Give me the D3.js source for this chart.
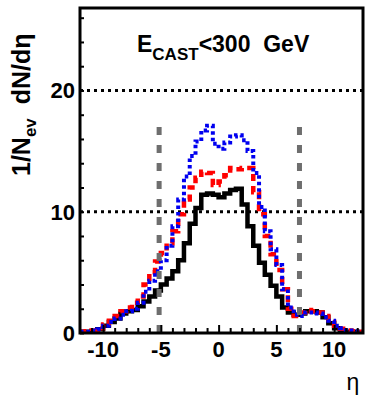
<!DOCTYPE html>
<html>
<head>
<meta charset="utf-8">
<script src="https://cdn.jsdelivr.net/npm/d3@7"></script>
<style>
  html, body { margin: 0; padding: 0; background: #fff; }
  svg { display: block; font-family: "Liberation Sans", Arial, sans-serif; }
</style>
</head>
<body>
<svg id="chart" width="366" height="398"></svg>
<script>
// eta bins, width 0.5, lower edges from -12 to 12 (last bin ends at 12.5)
const binEdges = [-12, -11.5, -11, -10.5, -10, -9.5, -9, -8.5, -8, -7.5, -7, -6.5,
  -6, -5.5, -5, -4.5, -4, -3.5, -3, -2.5, -2, -1.5, -1, -0.5,
  0, 0.5, 1, 1.5, 2, 2.5, 3, 3.5, 4, 4.5, 5, 5.5, 6, 6.5, 7, 7.5,
  8, 8.5, 9, 9.5, 10, 10.5, 11, 11.5, 12, 12.5];

// 1/Nev dN/deta, one value per bin
const blackVals = [0.1, 0.1, 0.15, 0.3, 0.6, 0.9, 1.2, 1.6, 1.8, 1.9, 2.2, 2.6,
  3.0, 3.5, 4.0, 4.5, 5.1, 6.0, 7.4, 9.0, 10.3, 11.4, 11.5, 11.4,
  11.2, 11.5, 11.8, 11.9, 10.6, 8.8, 7.2, 5.8, 4.8, 3.9, 3.0, 2.1, 1.7, 1.5, 1.6, 1.8,
  1.8, 1.7, 1.3, 0.8, 0.4, 0.2, 0.1, 0.1, 0.05];
const redVals = [0.1, 0.15, 0.2, 0.4, 0.7, 1.0, 1.4, 1.8, 2.1, 2.5, 3.0, 4.0,
  5.0, 5.9, 6.6, 7.4, 8.4, 9.8, 11.0, 12.0, 12.8, 13.3, 13.2, 12.2,
  12.5, 13.0, 13.6, 13.5, 13.6, 13.6, 11.6, 9.8, 8.0, 6.5, 5.2, 3.6, 2.0, 1.4, 1.7, 1.9,
  1.8, 1.7, 1.4, 0.9, 0.6, 0.35, 0.2, 0.15, 0.1];
const blueVals = [0.1, 0.1, 0.2, 0.3, 0.6, 0.9, 1.2, 1.5, 1.8, 2.0, 2.5, 3.4,
  4.3, 5.1, 6.0, 7.2, 8.8, 11.0, 12.9, 14.6, 15.8, 16.7, 17.1, 15.6,
  15.2, 15.7, 16.2, 16.3, 15.9, 15.0, 13.2, 10.4, 8.4, 6.9, 5.6, 3.6, 2.1, 1.5, 1.4, 1.7,
  1.7, 1.6, 1.3, 1.0, 0.6, 0.4, 0.2, 0.15, 0.1];

const gridVals = [10, 20];
const xTickLabels = [-10, -5, 0, 5, 10];
const yTickLabels = [0, 10, 20];
const accLines = [-5.15, 7.0];     // acceptance markers
const accTop = 17.2;

const svg = d3.select("#chart");
const x = d3.scaleLinear().domain([-12, 12.5]).range([80, 363]);
const y = d3.scaleLinear().domain([0, 26.8]).range([333, 8]);

svg.append("defs").append("clipPath").attr("id", "plot")
  .append("rect").attr("x", 80).attr("y", 8).attr("width", 283).attr("height", 325);

const plot = svg.append("g").attr("clip-path", "url(#plot)");

// dotted reference lines
plot.selectAll("line.grid").data(gridVals).join("line")
  .attr("class", "grid")
  .attr("x1", x.range()[0]).attr("x2", x.range()[1])
  .attr("y1", d => y(d)).attr("y2", d => y(d))
  .attr("stroke", "#000").attr("stroke-width", 3).attr("stroke-dasharray", "3,4");

const hist = (vals) => {
  const pts = vals.map((v, i) => [binEdges[i], v]);
  pts.push([binEdges[vals.length], vals[vals.length - 1]]);
  return d3.line().x(d => x(d[0])).y(d => y(d[1])).curve(d3.curveStepAfter)(pts);
};

plot.append("path").attr("d", hist(blackVals))
  .attr("fill", "none").attr("stroke", "#000").attr("stroke-width", 4.5);
plot.append("path").attr("d", hist(redVals))
  .attr("fill", "none").attr("stroke", "#f00").attr("stroke-width", 4.5)
  .attr("stroke-dasharray", "7,5");
plot.append("path").attr("d", hist(blueVals))
  .attr("fill", "none").attr("stroke", "#0000f0").attr("stroke-width", 4)
  .attr("stroke-dasharray", "3.5,3");

// acceptance edges
plot.selectAll("line.acc").data(accLines).join("line")
  .attr("class", "acc")
  .attr("x1", d => x(d)).attr("x2", d => x(d))
  .attr("y1", y(0)).attr("y2", y(accTop))
  .attr("stroke", "#6e6e6e").attr("stroke-width", 5).attr("stroke-dasharray", "8,10");

// axes
const xAxis = d3.axisTop(x).tickValues(d3.range(-11, 13, 1)).tickSize(5).tickFormat("");
const gx = svg.append("g").attr("transform", `translate(0,${y(0)})`).call(xAxis);
gx.select(".domain").remove();
gx.selectAll(".tick line").attr("stroke-width", 2)
  .attr("y2", d => (xTickLabels.includes(d) ? -8 : -5));

const yAxis = d3.axisRight(y).tickValues(d3.range(0, 27, 2)).tickSize(4).tickFormat("");
const gy = svg.append("g").attr("transform", `translate(${x(-12)},0)`).call(yAxis);
gy.select(".domain").remove();
gy.selectAll(".tick line").attr("stroke-width", 2);

// frame
svg.append("rect").attr("x", 80).attr("y", 8).attr("width", 283).attr("height", 325)
  .attr("fill", "none").attr("stroke", "#000").attr("stroke-width", 3);

// tick labels
svg.selectAll("text.xl").data(xTickLabels).join("text")
  .attr("class", "xl")
  .attr("x", d => x(d)).attr("y", 357)
  .attr("text-anchor", "middle").attr("font-size", 22).attr("font-weight", "bold")
  .text(d => d);
svg.selectAll("text.yl").data(yTickLabels).join("text")
  .attr("class", "yl")
  .attr("x", 75).attr("y", d => y(d) + 8)
  .attr("text-anchor", "end").attr("font-size", 22).attr("font-weight", "bold")
  .text(d => d);

// axis titles
svg.append("text").attr("x", 353).attr("y", 390).attr("text-anchor", "middle")
  .attr("font-size", 23).text("η");

const yt = svg.append("text")
  .attr("transform", "translate(30,176) rotate(-90)")
  .attr("font-size", 25).attr("font-weight", "bold")
  .style("white-space", "pre");
yt.append("tspan").text("1/N");
yt.append("tspan").attr("font-size", 17).attr("dy", 6).text("ev");
yt.append("tspan").attr("dy", -6).text("  dN/dη");

// label
const lab = svg.append("text").attr("x", 137).attr("y", 52)
  .attr("font-size", 23).attr("font-weight", "bold").style("white-space", "pre");
lab.append("tspan").text("E");
lab.append("tspan").attr("font-size", 17).attr("dy", 8).text("CAST");
lab.append("tspan").attr("dy", -8).text("<300  GeV");
</script>
</body>
</html>
